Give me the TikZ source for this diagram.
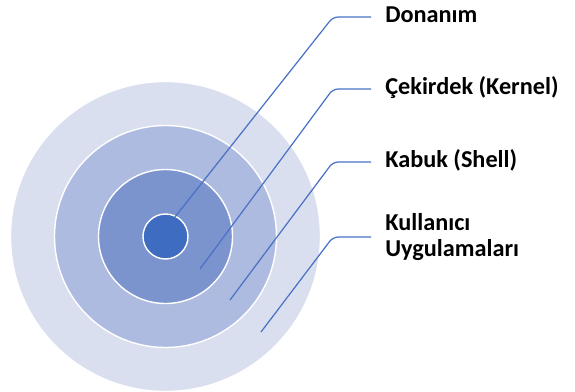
\documentclass[tikz,border=0pt]{standalone}
\usepackage{fontspec}
\setmainfont{Carlito}
\usepackage{xcolor}
\usepackage{tikz}
\usetikzlibrary{positioning,calc}
\definecolor{core}{RGB}{62,108,192}
\definecolor{ringc}{RGB}{123,148,206}
\definecolor{ringb}{RGB}{174,187,224}
\definecolor{ringa}{RGB}{218,223,240}
\definecolor{leadc}{RGB}{74,114,196}
\tikzset{
  ring/.style={circle,draw=white,line width=.8pt,inner sep=0pt},
  lead/.style={line width=.7pt,leadc,rounded corners=3pt,shorten >=.28cm},
  lab/.style={anchor=west,inner sep=0pt,font=\fontsize{13.8}{14.3}\selectfont\bfseries,align=left},
  one/.style={text height=.644em,text depth=0pt}
}
\begin{document}
\begin{tikzpicture}
  \useasboundingbox (0,0) rectangle (11.5,7.82);
  % layers
  \node[ring,fill=ringa,minimum size=6.2cm] (L4) at (3.31,3.09) {};
  \node[ring,fill=ringb,minimum size=4.44cm] (L3) at (3.31,3.09) {};
  \node[ring,fill=ringc,minimum size=2.68cm] (L2) at (3.31,3.09) {};
  \node[ring,fill=core,minimum size=.9cm] (L1) at (3.31,3.09) {};
  % labels
  \node[lab,one] (t1) at (7.70,7.48) {Donanım};
  \node[lab,one] (t2) at (7.70,6.04) {Çekirdek (Kernel)};
  \node[lab,one] (t3) at (7.70,4.58) {Kabuk (Shell)};
  \node[lab] (t4) at (7.70,3.08) {Kullanıcı\\Uygulamaları};
  % leader lines
  \coordinate (p1) at (3.50,3.48);
  \coordinate (p2) at (4.00,2.44);
  \coordinate (p3) at (4.60,1.82);
  \coordinate (p4) at (5.22,1.18);
  \draw[lead] (p1) -- ([xshift=-1.04cm]t1.west) -- (t1.west);
  \draw[lead] (p2) -- ([xshift=-1.04cm]t2.west) -- (t2.west);
  \draw[lead] (p3) -- ([xshift=-1.04cm]t3.west) -- (t3.west);
  \draw[lead] (p4) -- ([xshift=-1.04cm]t4.west) -- (t4.west);
\end{tikzpicture}
\end{document}
